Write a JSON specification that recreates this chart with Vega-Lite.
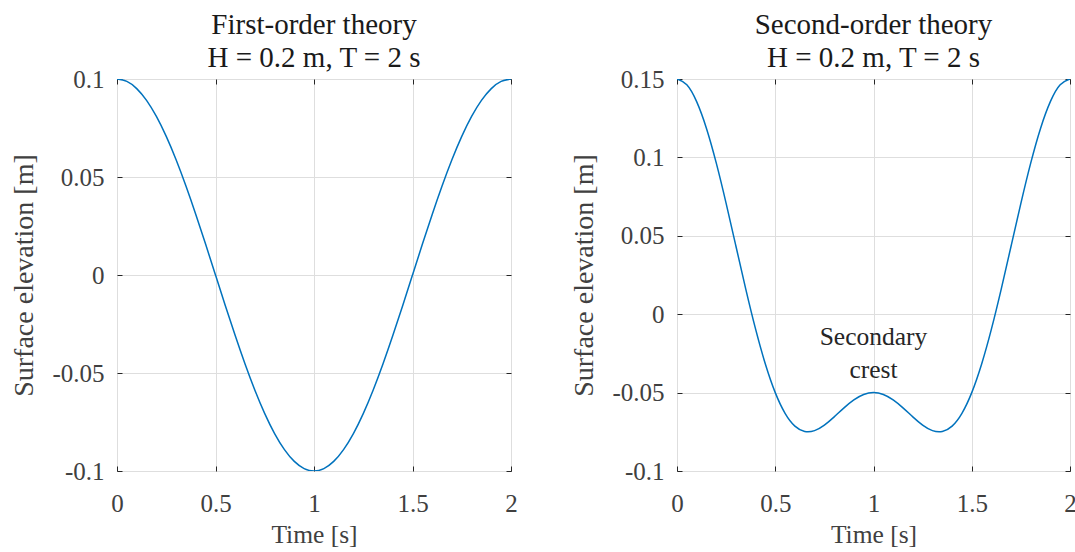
{
  "$schema": "https://vega.github.io/schema/vega-lite/v6.json",
  "padding": {"left": 10, "top": 10, "right": 4, "bottom": 2},
  "background": "white",
  "datasets": {
    "first": [
      {"t": 0, "y": 0.1}, {"t": 0.05, "y": 0.098769}, {"t": 0.1, "y": 0.095106}, {"t": 0.15, "y": 0.089101},
      {"t": 0.2, "y": 0.080902}, {"t": 0.25, "y": 0.070711}, {"t": 0.3, "y": 0.058779}, {"t": 0.35, "y": 0.045399},
      {"t": 0.4, "y": 0.030902}, {"t": 0.45, "y": 0.015643}, {"t": 0.5, "y": 0}, {"t": 0.55, "y": -0.015643},
      {"t": 0.6, "y": -0.030902}, {"t": 0.65, "y": -0.045399}, {"t": 0.7, "y": -0.058779}, {"t": 0.75, "y": -0.070711},
      {"t": 0.8, "y": -0.080902}, {"t": 0.85, "y": -0.089101}, {"t": 0.9, "y": -0.095106}, {"t": 0.95, "y": -0.098769},
      {"t": 1, "y": -0.1}, {"t": 1.05, "y": -0.098769}, {"t": 1.1, "y": -0.095106}, {"t": 1.15, "y": -0.089101},
      {"t": 1.2, "y": -0.080902}, {"t": 1.25, "y": -0.070711}, {"t": 1.3, "y": -0.058779}, {"t": 1.35, "y": -0.045399},
      {"t": 1.4, "y": -0.030902}, {"t": 1.45, "y": -0.015643}, {"t": 1.5, "y": 0}, {"t": 1.55, "y": 0.015643},
      {"t": 1.6, "y": 0.030902}, {"t": 1.65, "y": 0.045399}, {"t": 1.7, "y": 0.058779}, {"t": 1.75, "y": 0.070711},
      {"t": 1.8, "y": 0.080902}, {"t": 1.85, "y": 0.089101}, {"t": 1.9, "y": 0.095106}, {"t": 1.95, "y": 0.098769},
      {"t": 2, "y": 0.1}
    ],
    "second": [
      {"t": 0, "y": 0.15}, {"t": 0.05, "y": 0.146322}, {"t": 0.1, "y": 0.135557}, {"t": 0.15, "y": 0.11849},
      {"t": 0.2, "y": 0.096353}, {"t": 0.25, "y": 0.070711}, {"t": 0.3, "y": 0.043328}, {"t": 0.35, "y": 0.01601},
      {"t": 0.4, "y": -0.009549}, {"t": 0.45, "y": -0.031909}, {"t": 0.5, "y": -0.05}, {"t": 0.55, "y": -0.063196},
      {"t": 0.6, "y": -0.071353}, {"t": 0.65, "y": -0.074789}, {"t": 0.7, "y": -0.074229}, {"t": 0.75, "y": -0.070711},
      {"t": 0.8, "y": -0.065451}, {"t": 0.85, "y": -0.059711}, {"t": 0.9, "y": -0.054655}, {"t": 0.95, "y": -0.051216},
      {"t": 1, "y": -0.05}, {"t": 1.05, "y": -0.051216}, {"t": 1.1, "y": -0.054655}, {"t": 1.15, "y": -0.059711},
      {"t": 1.2, "y": -0.065451}, {"t": 1.25, "y": -0.070711}, {"t": 1.3, "y": -0.074229}, {"t": 1.35, "y": -0.074789},
      {"t": 1.4, "y": -0.071353}, {"t": 1.45, "y": -0.063196}, {"t": 1.5, "y": -0.05}, {"t": 1.55, "y": -0.031909},
      {"t": 1.6, "y": -0.009549}, {"t": 1.65, "y": 0.01601}, {"t": 1.7, "y": 0.043328}, {"t": 1.75, "y": 0.070711},
      {"t": 1.8, "y": 0.096353}, {"t": 1.85, "y": 0.11849}, {"t": 1.9, "y": 0.135557}, {"t": 1.95, "y": 0.146322},
      {"t": 2, "y": 0.15}
    ],
    "note": [
      {"t": 1, "y": -0.0145, "label": "Secondary\ncrest"}
    ]
  },
  "hconcat": [
    {
      "width": 394,
      "height": 392,
      "title": {"text": ["First-order theory", "H = 0.2 m, T = 2 s"]},
      "data": {"name": "first"},
      "layer": [
        {
          "mark": {"type": "line", "color": "#0072BD", "strokeWidth": 1.5, "interpolate": "natural", "clip": true},
          "encoding": {
            "x": {"field": "t", "type": "quantitative", "scale": {"domain": [0, 2], "nice": false, "zero": false},
                  "axis": {"title": "Time [s]", "values": [0, 0.5, 1, 1.5, 2], "format": ".2~g", "orient": "bottom"}},
            "y": {"field": "y", "type": "quantitative", "scale": {"domain": [-0.1, 0.1], "nice": false, "zero": false},
                  "axis": {"title": "Surface elevation [m]", "values": [-0.1, -0.05, 0, 0.05, 0.1], "format": ".2~g", "labelExpr": "replace(datum.label, '\u2212', '-')", "orient": "left"}}
          }
        },
        {
          "mark": {"type": "line", "opacity": 0},
          "encoding": {
            "x": {"field": "t", "type": "quantitative",
                  "axis": {"title": null, "values": [0, 0.5, 1, 1.5, 2], "labels": false, "grid": false, "orient": "top"}},
            "y": {"field": "y", "type": "quantitative",
                  "axis": {"title": null, "values": [-0.1, -0.05, 0, 0.05, 0.1], "labels": false, "grid": false, "orient": "right"}}
          }
        }
      ],
      "resolve": {"axis": {"x": "independent", "y": "independent"}}
    },
    {
      "width": 393,
      "height": 392,
      "title": {"text": ["Second-order theory", "H = 0.2 m, T = 2 s"]},
      "layer": [
        {
          "data": {"name": "second"},
          "mark": {"type": "line", "color": "#0072BD", "strokeWidth": 1.5, "interpolate": "natural", "clip": true},
          "encoding": {
            "x": {"field": "t", "type": "quantitative", "scale": {"domain": [0, 2], "nice": false, "zero": false},
                  "axis": {"title": "Time [s]", "values": [0, 0.5, 1, 1.5, 2], "format": ".2~g", "orient": "bottom"}},
            "y": {"field": "y", "type": "quantitative", "scale": {"domain": [-0.1, 0.15], "nice": false, "zero": false},
                  "axis": {"title": "Surface elevation [m]", "values": [-0.1, -0.05, 0, 0.05, 0.1, 0.15], "format": ".2~g", "labelExpr": "replace(datum.label, '\u2212', '-')", "orient": "left"}}
          }
        },
        {
          "data": {"name": "note"},
          "mark": {"type": "text", "font": "Liberation Serif", "fontSize": 25.5, "color": "#262626", "lineBreak": "\n", "lineHeight": 33, "baseline": "middle", "align": "center"},
          "encoding": {
            "x": {"field": "t", "type": "quantitative",
                  "axis": {"title": null, "values": [0, 0.5, 1, 1.5, 2], "labels": false, "grid": false, "orient": "top"}},
            "y": {"field": "y", "type": "quantitative",
                  "axis": {"title": null, "values": [-0.1, -0.05, 0, 0.05, 0.1, 0.15], "labels": false, "grid": false, "orient": "right"}},
            "text": {"field": "label", "type": "nominal"}
          }
        }
      ],
      "resolve": {"axis": {"x": "independent", "y": "independent"}}
    }
  ],
  "spacing": 166,
  "bounds": "flush",
  "config": {
    "font": "Liberation Serif",
    "view": {"stroke": "#262626", "strokeWidth": 1},
    "title": {"font": "Liberation Serif", "fontSize": 29, "fontWeight": "normal", "color": "#1a1a1a", "anchor": "middle", "offset": -6, "lineHeight": 33},
    "axis": {
      "labelFont": "Liberation Serif",
      "labelFontSize": 25,
      "labelColor": "#404040",
      "titleFont": "Liberation Serif",
      "titleFontWeight": "normal",
      "titleColor": "#404040",
      "domain": false,
      "tickColor": "#262626",
      "tickSize": -5,
      "gridColor": "#dedede",
      "gridWidth": 1,
      "labelFlush": false,
      "labelOverlap": false
    },
    "axisX": {"titlePadding": 6, "labelPadding": 25, "titleFontSize": 25.5},
    "axisY": {"titlePadding": 13, "labelPadding": 18, "titleFontSize": 28}
  }
}
